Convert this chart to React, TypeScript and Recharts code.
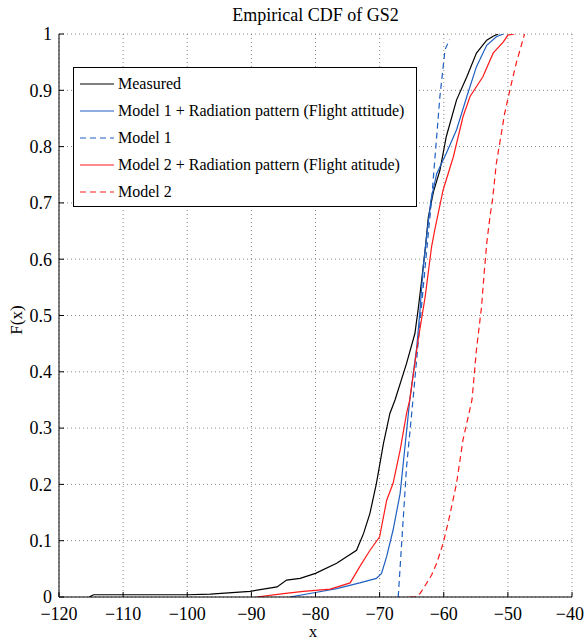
import React from "react";
import { LineChart, Line, XAxis, YAxis, CartesianGrid } from "recharts";

// values
const measuredX = [-115.3, -114.6, -100, -96.4, -90.2, -86, -84.5, -82.4, -80, -76.7, -73.6, -72.5, -71.5, -70.5, -69.4, -68.4, -67.6, -65.8, -64.5, -64.0, -63.5, -62.9, -62.4, -61.6, -60.6, -59.6, -58.0, -56.4, -54.9, -53.3, -52.3, -51.5];
const measuredF = [0, 0.004, 0.004, 0.005, 0.01, 0.018, 0.03, 0.033, 0.042, 0.06, 0.083, 0.113, 0.149, 0.202, 0.273, 0.326, 0.35, 0.415, 0.468, 0.51, 0.557, 0.616, 0.675, 0.72, 0.758, 0.818, 0.883, 0.924, 0.966, 0.989, 0.996, 1.0];

const model1RpX = [-84, -80, -76.7, -73.1, -70.5, -69.7, -68.9, -67.9, -66.8, -66.1, -65.3, -64.2, -63.7, -63.2, -62.6, -62.0, -61.1, -59.6, -58.0, -56.4, -54.9, -53.3, -51.8, -50.7];
const model1RpF = [0, 0.008, 0.015, 0.025, 0.033, 0.042, 0.072, 0.119, 0.184, 0.261, 0.35, 0.445, 0.51, 0.587, 0.648, 0.705, 0.752, 0.788, 0.83, 0.889, 0.942, 0.98, 0.995, 1.0];

const model1X = [-67.1, -65.8, -64.8, -62.9, -61.9, -60.6, -59.8, -59.1];
const model1F = [0, 0.231, 0.35, 0.587, 0.705, 0.889, 0.972, 0.99];

const model2RpX = [-89.2, -85, -81.9, -77.7, -74.6, -73.1, -71.5, -70.0, -68.9, -67.9, -66.8, -65.8, -65.3, -64.0, -62.9, -61.9, -61.4, -60.1, -58.5, -57.0, -55.9, -53.9, -52.3, -50.7, -50.0, -49.0];
const model2RpF = [0, 0.006, 0.01, 0.014, 0.025, 0.054, 0.083, 0.107, 0.172, 0.202, 0.261, 0.326, 0.35, 0.456, 0.533, 0.622, 0.652, 0.723, 0.782, 0.853, 0.889, 0.924, 0.966, 0.986, 0.998, 1.0];

const model2X = [-65.3, -64.5, -63.7, -62.7, -61.9, -61.1, -60.1, -59.1, -58.0, -57.0, -55.6, -54.9, -54.1, -53.7, -53.3, -52.8, -52.4, -51.8, -50.5, -49.7, -48.7, -47.4];
const model2F = [0, 0, 0.006, 0.024, 0.039, 0.06, 0.095, 0.143, 0.202, 0.279, 0.35, 0.439, 0.516, 0.575, 0.628, 0.675, 0.705, 0.77, 0.859, 0.9, 0.948, 1.0];

const xTicks = [-120, -110, -100, -90, -80, -70, -60, -50, -40];
const yTicks = [0, 0.1, 0.2, 0.3, 0.4, 0.5, 0.6, 0.7, 0.8, 0.9, 1];

const BLUE = "#1f5fc0";
const RED = "#ff1a1a";

const toPoints = (xs: number[], fs: number[]) => xs.map((x, i) => ({ x, f: fs[i] }));

const series = [
  { name: "Measured", data: toPoints(measuredX, measuredF), color: "#000", dash: undefined },
  { name: "Model 1 + Radiation pattern (Flight attitude)", data: toPoints(model1RpX, model1RpF), color: BLUE, dash: undefined },
  { name: "Model 1", data: toPoints(model1X, model1F), color: BLUE, dash: "6 4" },
  { name: "Model 2 + Radiation pattern (Flight atitude)", data: toPoints(model2RpX, model2RpF), color: RED, dash: undefined },
  { name: "Model 2", data: toPoints(model2X, model2F), color: RED, dash: "6 4" },
];

const FONT = "'Liberation Serif', 'Times New Roman', serif";
const tickStyle = { fill: "#000", fontSize: 18, fontFamily: FONT };

const fmtX = (v: number) => (v < 0 ? "\u2212" + Math.abs(v) : String(v));
const fmtY = (v: number) => (v === 0 ? "0" : v === 1 ? "1" : v.toFixed(1));

export default function App() {
  return (
    <div style={{ position: "absolute", left: 0, top: 0, width: 584, height: 639, background: "#fff", fontFamily: FONT }}>
      <div style={{ position: "absolute", top: 5, left: 59, width: 513, textAlign: "center", fontSize: 18 }}>
        Empirical CDF of GS2
      </div>
      <LineChart width={584} height={639} margin={{ top: 34, right: 12, bottom: 12, left: 9 }}>
        <CartesianGrid stroke="#8a8a8a" strokeDasharray="1 3" />
        <XAxis
          type="number"
          dataKey="x"
          domain={[-120, -40]}
          ticks={xTicks}
          tickFormatter={fmtX}
          allowDataOverflow
          height={30}
          tick={tickStyle}
          tickSize={-5}
          tickMargin={15}
          stroke="#000"
          axisLine={{ stroke: "#000" }}
        />
        <XAxis xAxisId="top" type="number" orientation="top" domain={[-120, -40]} ticks={xTicks} height={0} tick={false} axisLine={{ stroke: "#000" }} />
        <YAxis
          type="number"
          dataKey="f"
          domain={[0, 1]}
          ticks={yTicks}
          tickFormatter={fmtY}
          allowDataOverflow
          width={50}
          tick={tickStyle}
          tickSize={-5}
          tickMargin={12}
          stroke="#000"
          axisLine={{ stroke: "#000" }}
        />
        <YAxis yAxisId="right" type="number" orientation="right" domain={[0, 1]} ticks={yTicks} width={0} tick={false} axisLine={{ stroke: "#000" }} />
        {series.map((s) => (
          <Line
            key={s.name}
            data={s.data}
            dataKey="f"
            type="linear"
            stroke={s.color}
            strokeWidth={1.2}
            strokeDasharray={s.dash}
            dot={false}
            isAnimationActive={false}
          />
        ))}
      </LineChart>
      <div style={{ position: "absolute", left: 17, top: 320, transform: "translate(-50%, -50%) rotate(-90deg)", fontSize: 17 }}>
        F(x)
      </div>
      <div style={{ position: "absolute", left: 313, top: 631, transform: "translate(-50%, -50%)", fontSize: 17, lineHeight: 1 }}>x</div>
      <div
        style={{
          position: "absolute",
          left: 73,
          top: 67,
          width: 344,
          height: 140,
          border: "1px solid #000",
          background: "#fff",
          boxSizing: "border-box",
          padding: "3px 0 0 6px",
        }}
      >
        {series.map((s) => (
          <div key={s.name} style={{ display: "flex", alignItems: "center", height: 26.8, fontSize: 16 }}>
            <svg width={34} height={6} style={{ marginRight: 4 }}>
              <line x1={0} y1={3} x2={34} y2={3} stroke={s.color} strokeWidth={1.2} strokeDasharray={s.dash} />
            </svg>
            <span>{s.name}</span>
          </div>
        ))}
      </div>
    </div>
  );
}
